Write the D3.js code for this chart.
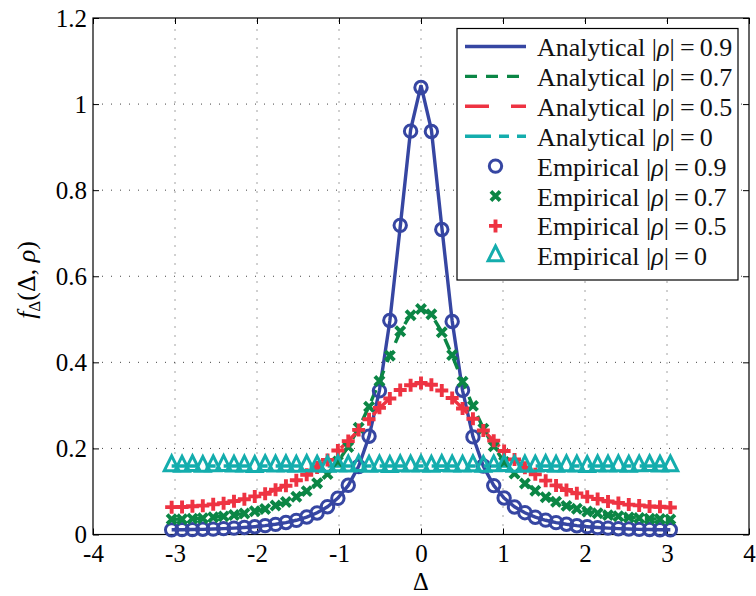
<!DOCTYPE html>
<html><head><meta charset="utf-8">
<script src="https://cdn.jsdelivr.net/npm/d3@7"></script>
<style>body{margin:0;background:#fff}</style>
</head><body><svg id="c" width="756" height="596"></svg>
<script>
// ---------- data ----------
const xValues = [-3.0408,-2.9141,-2.7874,-2.6607,-2.5340,-2.4073,-2.2806,-2.1539,-2.0272,-1.9005,-1.7738,-1.6471,-1.5204,-1.3937,-1.2670,-1.1403,-1.0136,-0.8869,-0.7602,-0.6335,-0.5068,-0.3801,-0.2534,-0.1267,0,
0.1267,0.2534,0.3801,0.5068,0.6335,0.7602,0.8869,1.0136,1.1403,1.2670,1.3937,1.5204,1.6471,1.7738,1.9005,2.0272,2.1539,2.2806,2.4073,2.5340,2.6607,2.7874,2.9141,3.0408];

const analytical09 = [0.0110,0.0112,0.0115,0.0120,0.0127,0.0136,0.0148,0.0162,0.0181,0.0205,0.0237,0.0277,0.0331,0.0404,0.0504,0.0643,0.0844,0.1140,0.1586,0.2275,0.3345,0.4959,0.7151,0.9403,1.0433,
0.9403,0.7151,0.4959,0.3345,0.2275,0.1586,0.1140,0.0844,0.0643,0.0504,0.0404,0.0331,0.0277,0.0237,0.0205,0.0181,0.0162,0.0148,0.0136,0.0127,0.0120,0.0115,0.0112,0.0110];
const analytical07 = [0.0353,0.0358,0.0367,0.0381,0.0400,0.0423,0.0453,0.0491,0.0538,0.0596,0.0669,0.0759,0.0871,0.1012,0.1189,0.1412,0.1692,0.2041,0.2469,0.2979,0.3557,0.4160,0.4711,0.5107,0.5252,
0.5107,0.4711,0.4160,0.3557,0.2979,0.2469,0.2041,0.1692,0.1412,0.1189,0.1012,0.0871,0.0759,0.0669,0.0596,0.0538,0.0491,0.0453,0.0423,0.0400,0.0381,0.0367,0.0358,0.0353];
const analytical05 = [0.0632,0.0640,0.0653,0.0673,0.0698,0.0731,0.0772,0.0821,0.0881,0.0952,0.1037,0.1137,0.1255,0.1393,0.1553,0.1737,0.1945,0.2175,0.2424,0.2682,0.2935,0.3165,0.3352,0.3474,0.3516,
0.3474,0.3352,0.3165,0.2935,0.2682,0.2424,0.2175,0.1945,0.1737,0.1553,0.1393,0.1255,0.1137,0.1037,0.0952,0.0881,0.0821,0.0772,0.0731,0.0698,0.0673,0.0653,0.0640,0.0632];
const analytical00 = [0.1592,0.1592,0.1592,0.1592,0.1592,0.1592,0.1592,
0.1592,0.1592,0.1592,0.1592,0.1592,0.1592,0.1592,
0.1592,0.1592,0.1592,0.1592,0.1592,0.1592,0.1592,
0.1592,0.1592,0.1592,0.1592,0.1592,0.1592,0.1592,
0.1592,0.1592,0.1592,0.1592,0.1592,0.1592,0.1592,
0.1592,0.1592,0.1592,0.1592,0.1592,0.1592,0.1592,
0.1592,0.1592,0.1592,0.1592,0.1592,0.1592,0.1592];

const empirical09 = [0.0108,0.0113,0.0114,0.0121,0.0126,0.0137,0.0147,0.0163,0.0180,0.0207,0.0235,0.0279,0.0329,0.0406,0.0501,0.0646,0.0841,0.1143,0.1580,0.2282,0.3338,0.4972,0.7182,0.9371,1.0385,
0.9362,0.7086,0.4948,0.3352,0.2268,0.1591,0.1136,0.0847,0.0640,0.0507,0.0402,0.0333,0.0275,0.0239,0.0203,0.0183,0.0160,0.0149,0.0135,0.0128,0.0119,0.0116,0.0111,0.0109];
const empirical07 = [0.0356,0.0355,0.0369,0.0379,0.0402,0.0421,0.0455,0.0489,0.0541,0.0593,0.0672,0.0756,0.0875,0.1008,0.1193,0.1407,0.1698,0.2035,0.2478,0.2970,0.3566,0.4151,0.4722,0.5096,0.5238,
0.5115,0.4700,0.4172,0.3548,0.2988,0.2460,0.2048,0.1686,0.1418,0.1183,0.1017,0.0867,0.0763,0.0665,0.0599,0.0535,0.0494,0.0450,0.0426,0.0398,0.0383,0.0365,0.0360,0.0351];
const empirical05 = [0.0635,0.0638,0.0656,0.0670,0.0701,0.0728,0.0775,0.0818,0.0885,0.0948,0.1041,0.1133,0.1259,0.1389,0.1557,0.1733,0.1950,0.2170,0.2430,0.2676,0.2942,0.3158,0.3358,0.3468,0.3522,
0.3479,0.3346,0.3171,0.2928,0.2688,0.2418,0.2181,0.1940,0.1742,0.1548,0.1398,0.1251,0.1141,0.1033,0.0956,0.0877,0.0825,0.0769,0.0734,0.0695,0.0676,0.0650,0.0643,0.0629];
const empirical00 = [0.1598,0.1587,0.1601,0.1583,0.1596,0.1605,0.1589,
0.1594,0.1580,0.1602,0.1591,0.1597,0.1586,0.1603,
0.1590,0.1584,0.1599,0.1593,0.1606,0.1588,0.1595,
0.1582,0.1600,0.1591,0.1597,0.1585,0.1604,0.1592,
0.1589,0.1598,0.1583,0.1596,0.1601,0.1587,0.1594,
0.1590,0.1603,0.1586,0.1599,0.1592,0.1581,0.1597,
0.1593,0.1600,0.1588,0.1595,0.1602,0.1590,0.1596];

const xTicks = [-4,-3,-2,-1,0,1,2,3,4];
const xTickLabels = ["-4","-3","-2","-1","0","1","2","3","4"];
const yTicks = [0,0.2,0.4,0.6,0.8,1,1.2];
const yTickLabels = ["0","0.2","0.4","0.6","0.8","1","1.2"];
const rhoLabels = ["0.9","0.7","0.5","0"];

// ---------- drawing ----------
const W = 756, H = 596;
const m = {left: 93, right: 749, top: 18, bottom: 534.5};
const FONT = "Liberation Serif, DejaVu Serif, Times New Roman, serif";
const svg = d3.select("#c");
svg.append("rect").attr("width", W).attr("height", H).attr("fill", "#fff");

const x = d3.scaleLinear().domain([-4, 4]).range([m.left, m.right]);
const y = d3.scaleLinear().domain([0, 1.2]).range([m.bottom, m.top]);

// grid
const grid = svg.append("g").attr("stroke", "#444").attr("stroke-width", 1).attr("stroke-dasharray", "1,8");
xTicks.slice(1, -1).forEach(t => grid.append("line").attr("x1", x(t)).attr("x2", x(t)).attr("y1", m.bottom).attr("y2", m.top));
yTicks.slice(1, -1).forEach(t => grid.append("line").attr("y1", y(t)).attr("y2", y(t)).attr("x1", m.left).attr("x2", m.right));

// axes
const gx = svg.append("g").attr("transform", `translate(0,${m.bottom})`)
  .call(d3.axisBottom(x).tickValues(xTicks).tickFormat((d, i) => xTickLabels[i]).tickSize(-6).tickPadding(10));
const gy = svg.append("g").attr("transform", `translate(${m.left},0)`)
  .call(d3.axisLeft(y).tickValues(yTicks).tickFormat((d, i) => yTickLabels[i]).tickSize(-6).tickPadding(6));
const gt = svg.append("g").attr("transform", `translate(0,${m.top})`)
  .call(d3.axisTop(x).tickValues(xTicks).tickFormat("").tickSize(-6));
const gr = svg.append("g").attr("transform", `translate(${m.right},0)`)
  .call(d3.axisRight(y).tickValues(yTicks).tickFormat("").tickSize(-6));
[gx, gy, gt, gr].forEach(g => {
  g.attr("font-family", null).attr("font-size", null);
  g.select(".domain").remove();
  g.selectAll("line").attr("stroke", "#000").attr("stroke-width", 1);
  g.selectAll("text").style("font-family", FONT).style("font-size", "25px").attr("fill", "#000");
});
svg.append("rect").attr("x", m.left).attr("y", m.top).attr("width", m.right - m.left).attr("height", m.bottom - m.top)
  .attr("fill", "none").attr("stroke", "#000").attr("stroke-width", 1.2);

// series styles
const colors = ["#3646a2", "#0b8645", "#ee3342", "#14adad"];
const dashes = [null, "12,9", "24,22", "26,8,10,8"];
const analytical = [analytical09, analytical07, analytical05, analytical00];
const empirical = [empirical09, empirical07, empirical05, empirical00];

const line = d3.line().x((d, i) => x(xValues[i])).y(d => y(d));
const plot = svg.append("g");
analytical.forEach((arr, s) => {
  plot.append("path").datum(arr).attr("d", line).attr("fill", "none")
    .attr("stroke", colors[s]).attr("stroke-width", 3.4)
    .attr("stroke-dasharray", dashes[s]);
});

const markerPaths = [
  null,
  "M-4.6,-4.6L4.6,4.6M-4.6,4.6L4.6,-4.6",
  "M-6.5,0H6.5M0,-6.5V6.5",
  "M0,-9.8L7.4,5L-7.4,5Z"
];
const markerStroke = [3, 3.9, 3.9, 3];
function drawMarker(g, s, cx, cy) {
  if (s === 0) {
    g.append("circle").attr("cx", cx).attr("cy", cy).attr("r", 6.2)
      .attr("fill", "none").attr("stroke", colors[s]).attr("stroke-width", markerStroke[s]);
  } else {
    g.append("path").attr("d", markerPaths[s]).attr("transform", `translate(${cx},${cy})`)
      .attr("fill", "none").attr("stroke", colors[s]).attr("stroke-width", markerStroke[s])
      .attr("stroke-linejoin", "miter");
  }
}
empirical.forEach((arr, s) => {
  const g = plot.append("g");
  arr.forEach((v, i) => drawMarker(g, s, x(xValues[i]), y(v)));
});

// legend
const leg = svg.append("g");
leg.append("rect").attr("x", 457).attr("y", 28.5).attr("width", 281).attr("height", 251.5)
  .attr("fill", "#fff").attr("stroke", "#000").attr("stroke-width", 1.2);
const rowY = i => 46.5 + i * 29.9;
const entries = [];
rhoLabels.forEach((r, s) => entries.push({kind: "line", s, name: "Analytical", r}));
rhoLabels.forEach((r, s) => entries.push({kind: "marker", s, name: "Empirical", r}));
entries.forEach((e, i) => {
  const cy = rowY(i);
  if (e.kind === "line") {
    leg.append("line").attr("x1", 465).attr("x2", 526).attr("y1", cy).attr("y2", cy)
      .attr("stroke", colors[e.s]).attr("stroke-width", 3.4).attr("stroke-dasharray", dashes[e.s]);
  } else {
    drawMarker(leg, e.s, 495.5, cy);
  }
  const t = leg.append("text").attr("x", 537).attr("y", cy + 9.5)
    .style("font-family", FONT).style("font-size", "26px").attr("fill", "#111");
  t.append("tspan").text(e.name + " |");
  t.append("tspan").attr("font-style", "italic").text("ρ");
  t.append("tspan").text("|\u2009=\u2009" + e.r);
});

// axis titles
svg.append("text").attr("x", x(0)).attr("y", 590).attr("text-anchor", "middle")
  .style("font-family", FONT).style("font-size", "24.5px").attr("fill", "#000").text("Δ");
const yl = svg.append("text").attr("transform", "translate(35,280) rotate(-90)").attr("text-anchor", "middle")
  .style("font-family", FONT).style("font-size", "26px").attr("fill", "#000");
yl.append("tspan").attr("font-style", "italic").text("f");
yl.append("tspan").style("font-size", "17px").attr("dy", 5).text("Δ");
yl.append("tspan").attr("dy", -5).text("(Δ, ");
yl.append("tspan").attr("font-style", "italic").text("ρ");
yl.append("tspan").text(")");
</script>
</body></html>
